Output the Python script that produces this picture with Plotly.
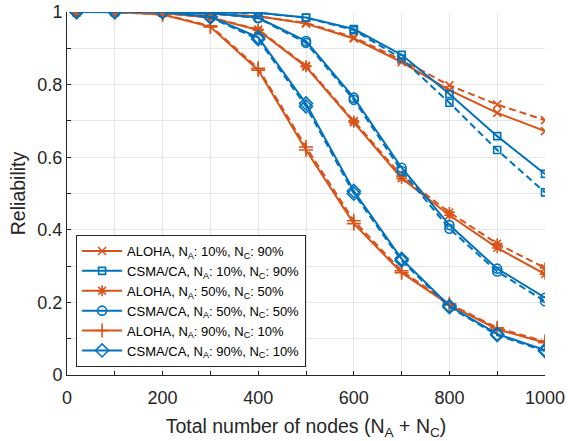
import plotly.graph_objects as go

nodes = [20, 100, 200, 300, 400, 500, 600, 700, 800, 900, 1000]

aloha_10_sim = [1, 1, 0.999, 0.995, 0.988, 0.968, 0.927, 0.862, 0.785, 0.722, 0.672]
aloha_10_ana = [1, 1, 0.999, 0.995, 0.988, 0.970, 0.930, 0.868, 0.798, 0.745, 0.702]
csma_10_sim = [1, 1, 1, 1, 0.998, 0.985, 0.953, 0.882, 0.774, 0.658, 0.554]
csma_10_ana = [1, 1, 1, 1, 0.998, 0.984, 0.950, 0.872, 0.750, 0.620, 0.503]
aloha_50_sim = [1, 1, 0.997, 0.985, 0.950, 0.849, 0.696, 0.542, 0.440, 0.350, 0.278]
aloha_50_ana = [1, 1, 0.997, 0.985, 0.952, 0.852, 0.700, 0.548, 0.448, 0.362, 0.295]
csma_50_sim = [1, 1, 1, 0.997, 0.984, 0.920, 0.764, 0.571, 0.413, 0.293, 0.213]
csma_50_ana = [1, 1, 1, 0.997, 0.983, 0.915, 0.758, 0.562, 0.403, 0.285, 0.203]
aloha_90_sim = [1, 1, 0.993, 0.959, 0.840, 0.620, 0.417, 0.282, 0.193, 0.126, 0.089]
aloha_90_ana = [1, 1, 0.993, 0.962, 0.845, 0.628, 0.425, 0.287, 0.196, 0.130, 0.092]
csma_90_sim = [1, 1, 1, 0.987, 0.930, 0.748, 0.507, 0.320, 0.190, 0.113, 0.069]
csma_90_ana = [1, 1, 1, 0.985, 0.925, 0.740, 0.500, 0.315, 0.187, 0.110, 0.066]

names = [
    "ALOHA, N<sub>A</sub>: 10%, N<sub>C</sub>: 90%",
    "CSMA/CA, N<sub>A</sub>: 10%, N<sub>C</sub>: 90%",
    "ALOHA, N<sub>A</sub>: 50%, N<sub>C</sub>: 50%",
    "CSMA/CA, N<sub>A</sub>: 50%, N<sub>C</sub>: 50%",
    "ALOHA, N<sub>A</sub>: 90%, N<sub>C</sub>: 10%",
    "CSMA/CA, N<sub>A</sub>: 90%, N<sub>C</sub>: 10%",
]

x_tickvals = [0, 100, 200, 300, 400, 500, 600, 700, 800, 900, 1000]
x_ticktext = ["0", "", "200", "", "400", "", "600", "", "800", "", "1000"]
y_tickvals = [0, 0.1, 0.2, 0.3, 0.4, 0.5, 0.6, 0.7, 0.8, 0.9, 1.0]
y_ticktext = ["0", "", "0.2", "", "0.4", "", "0.6", "", "0.8", "", "1"]

ORANGE = "#D95319"
BLUE = "#0072BD"

series = [
    (aloha_10_sim, aloha_10_ana, ORANGE, "x-thin-open", 8),
    (csma_10_sim, csma_10_ana, BLUE, "square-open", 7),
    (aloha_50_sim, aloha_50_ana, ORANGE, "asterisk-open", 9),
    (csma_50_sim, csma_50_ana, BLUE, "circle-open", 9),
    (aloha_90_sim, aloha_90_ana, ORANGE, "cross-thin-open", 10),
    (csma_90_sim, csma_90_ana, BLUE, "diamond-open", 10),
]

fig = go.Figure()
for (sim, ana, col, sym, sz), nm in zip(series, names):
    fig.add_trace(go.Scatter(
        x=nodes, y=sim, mode="lines+markers", name=nm,
        line=dict(color=col, width=2),
        marker=dict(symbol=sym, size=sz, color=col, line=dict(color=col, width=1.6)),
        showlegend=True))
    fig.add_trace(go.Scatter(
        x=nodes, y=ana, mode="lines+markers", name=nm + " (analysis)",
        line=dict(color=col, width=2, dash="7px,4px"),
        marker=dict(symbol=sym, size=sz, color=col, line=dict(color=col, width=1.6)),
        showlegend=False))

axis_common = dict(
    showline=True, linecolor="#262626", linewidth=1,
    ticks="inside", ticklen=4, tickcolor="#262626",
    showgrid=True, gridcolor="#e6e6e6", gridwidth=1,
    zeroline=False, mirror=False, automargin=False,
    ticklabeloverflow="allow",
    tickfont=dict(size=18, color="#262626"),
)

fig.update_xaxes(range=[0, 1000], tickmode="array", tickvals=x_tickvals, ticktext=x_ticktext,
                 ticklabelstandoff=6,
                 title=dict(text="Total number of nodes (N<sub>A</sub> + N<sub>C</sub>)",
                            font=dict(size=19.5, color="#262626"), standoff=12),
                 **axis_common)
fig.update_yaxes(range=[0, 1], tickmode="array", tickvals=y_tickvals, ticktext=y_ticktext,
                 title=dict(text="Reliability", font=dict(size=19.5, color="#262626"), standoff=6),
                 **axis_common)

fig.update_layout(
    width=568, height=441,
    margin=dict(l=67, r=23, t=12, b=66),
    paper_bgcolor="white", plot_bgcolor="white",
    font=dict(family="Liberation Sans, Arial, sans-serif", color="#262626"),
    legend=dict(x=0.019, y=0.022, xanchor="left", yanchor="bottom",
                bgcolor="white", bordercolor="#262626", borderwidth=1,
                font=dict(size=13, color="#000000"), tracegroupgap=0,
                itemwidth=40),
)

# remove the page's default 8px body margin so the figure fills the window exactly
fig.write_html("out.html", config={"displayModeBar": False},
               post_script="document.body.style.margin='0';")
